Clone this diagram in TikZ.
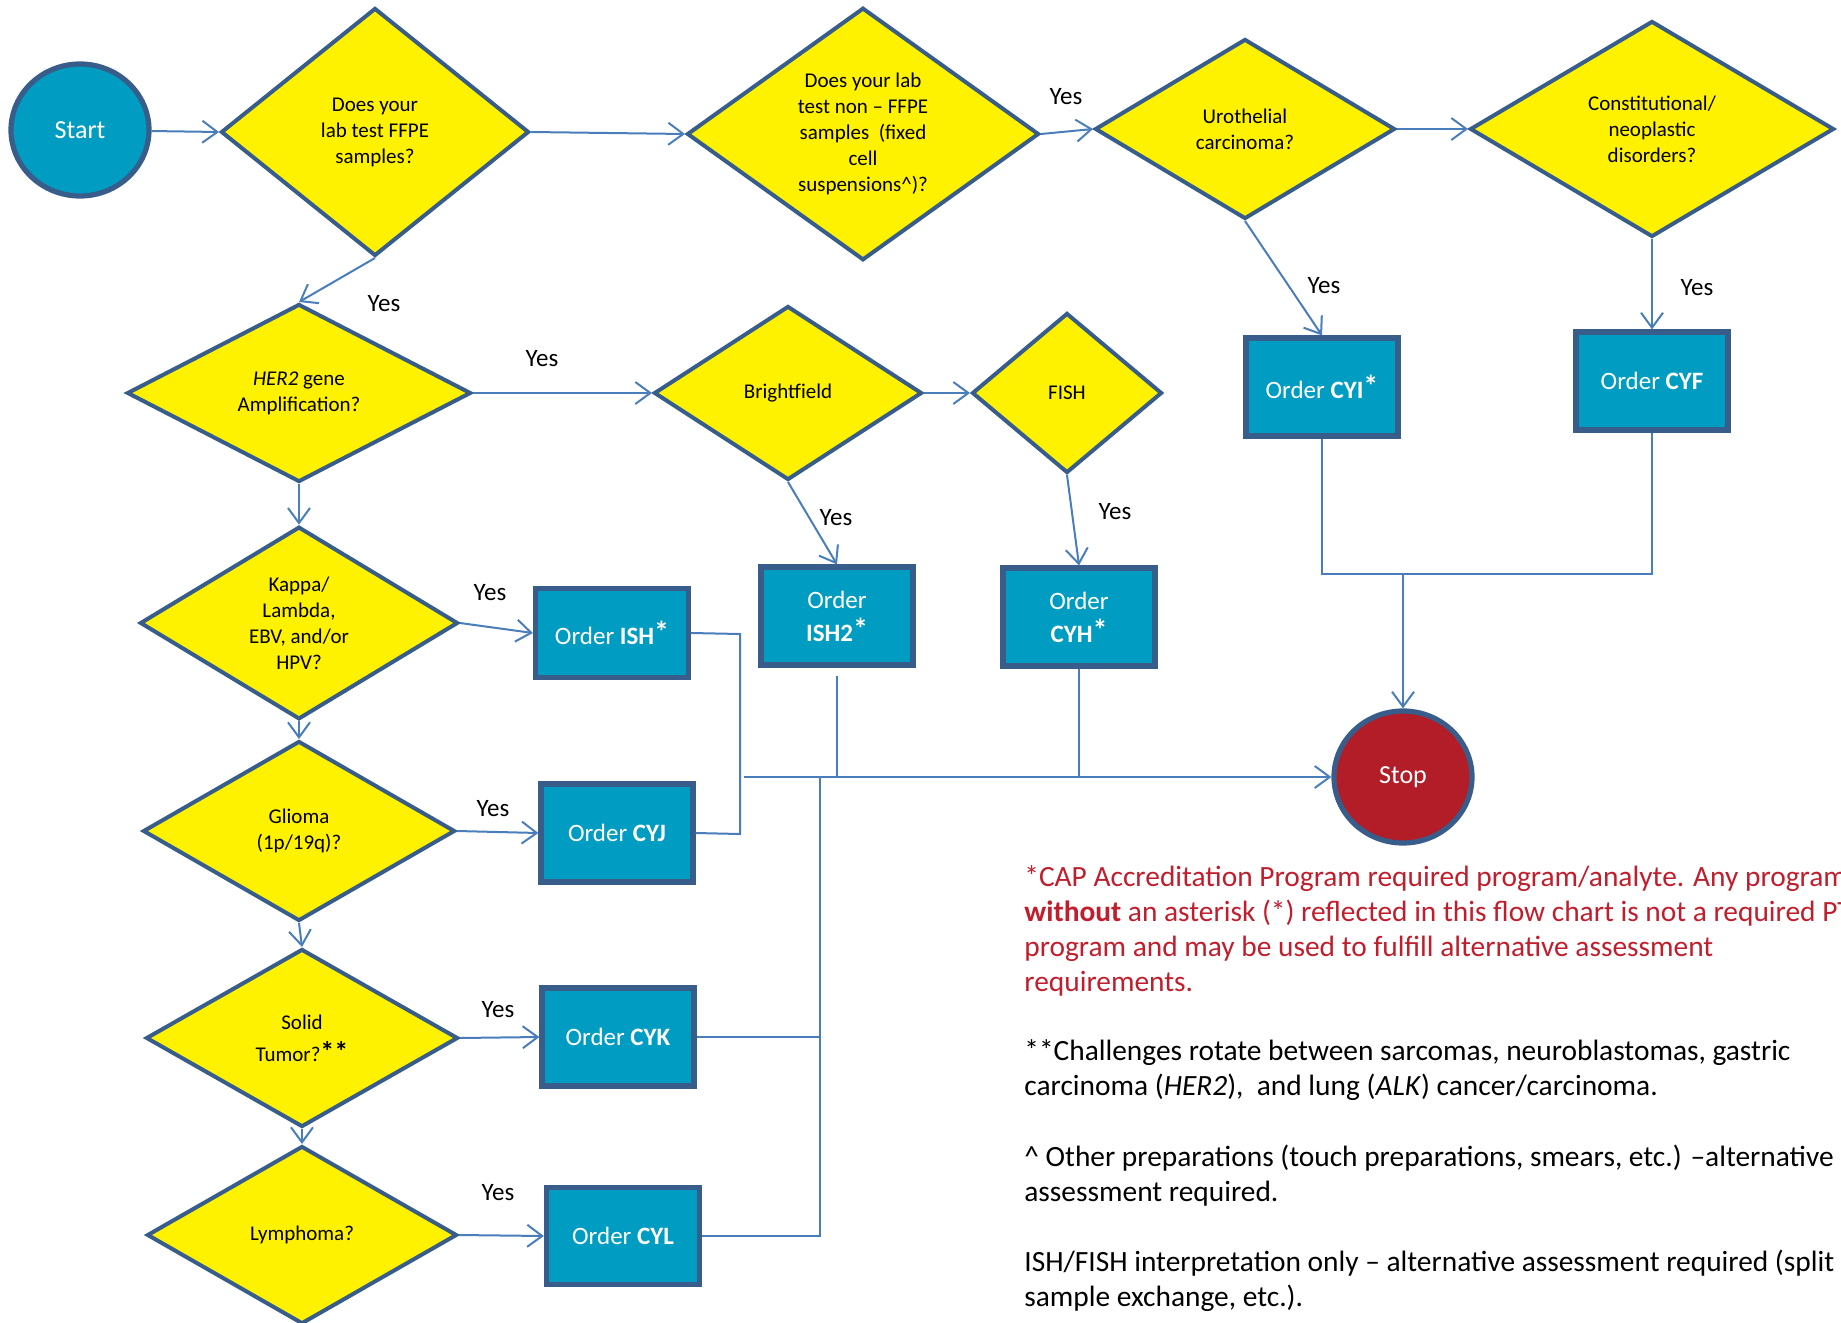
\documentclass[tikz,border=0pt]{standalone}
\usepackage{fontspec}
\setmainfont{Carlito}
\usetikzlibrary{shapes.geometric,arrows.meta}
\definecolor{bd}{RGB}{56,93,138}
\definecolor{boxfill}{RGB}{0,156,193}
\definecolor{ln}{RGB}{74,126,187}
\definecolor{stopred}{RGB}{178,29,40}
\definecolor{notered}{RGB}{192,30,45}
\newcommand\reqstar{\raisebox{0.8pt}{\fontsize{15}{15}\selectfont\bfseries *}}
\begin{document}
\begin{tikzpicture}[x=0.5pt,y=-0.5pt,
 dec/.style={diamond, draw=bd, line width=2pt, fill=yellow, inner sep=0pt, align=center, font=\fontsize{10.5}{13}\selectfont},
 dsz/.style 2 args={minimum width=#1pt, minimum height=#2pt},
 ordbox/.style={rectangle, draw=bd, line width=2.6pt, fill=boxfill, text=white, minimum width=76pt, minimum height=49pt, inner sep=0pt, align=center, font=\fontsize{12.5}{16.5}\selectfont},
 term/.style={ellipse, draw=bd, line width=2.6pt, text=white, minimum width=69pt, minimum height=66pt, inner sep=0pt, font=\fontsize{13}{15}\selectfont},
 conn/.style={draw=ln, line width=1pt, -{Straight Barb[length=7.5pt,width=11pt]}},
 wire/.style={draw=ln, line width=1pt},
 yes/.style={font=\fontsize{12.5}{15}\selectfont, inner sep=0pt},
 note/.style={anchor=base west, align=left, inner sep=0pt, font=\fontsize{14.7}{17.5}\selectfont}
]
\useasboundingbox (0,0) rectangle (1841,1322);
\clip (0,0) rectangle (1841,1322);

% terminals
\node[term, fill=boxfill] (start) at (80,130) {Start};
\node[term, fill=stopred] (stop) at (1403,777) {Stop};

% decisions
\node[dec, dsz={154}{124}] (A) at (375,132) {Does your\\lab test FFPE\\samples?};
\node[dec, dsz={176}{125}] (B) at (863,134) {Does your lab\\test non -- FFPE\\samples\ \ (fixed\\cell\\suspensions\^{})?};
\node[dec, dsz={150}{90}] (C) at (1245,129) {Urothelial\\carcinoma?};
\node[dec, dsz={182}{108}] (D) at (1652,129) {Constitutional/\\neoplastic\\disorders?};
\node[dec, dsz={172}{89}] (E) at (299,393) {\textit{HER2} gene\\Amplification?};
\node[dec, dsz={134}{87}] (F) at (788,393) {Brightfield};
\node[dec, dsz={95}{80}] (G) at (1067,393) {FISH};
\node[dec, dsz={159}{89}] (H) at (299,623) {Kappa/\\Lambda,\\EBV, and/or\\HPV?};
\node[dec, dsz={156}{90}] (I) at (299,831) {Glioma\\(1p/19q)?};
\node[dec, dsz={156}{89}] (J) at (302,1038) {Solid\\[3pt]Tumor?{\fontsize{14}{14}\selectfont\bfseries **}};
\node[dec, dsz={155}{89}] (K) at (302,1235) {Lymphoma?};

% order boxes
\node[ordbox, minimum width=76.5pt, minimum height=44.5pt] (ISH) at (612,633) {Order \textbf{ISH}\reqstar};
\node[ordbox] (ISH2) at (837,616) {Order\\\textbf{ISH2}\reqstar};
\node[ordbox] (CYH) at (1079,617) {Order\\\textbf{CYH}\reqstar};
\node[ordbox] (CYI) at (1322,387) {Order \textbf{CYI}\reqstar};
\node[ordbox] (CYF) at (1652,381) {Order \textbf{CYF}};
\node[ordbox] (CYJ) at (617,833) {Order \textbf{CYJ}};
\node[ordbox] (CYK) at (618,1037) {Order \textbf{CYK}};
\node[ordbox, minimum width=76.5pt, minimum height=48.5pt] (CYL) at (623,1236) {Order \textbf{CYL}};

% helper coordinates
\coordinate (m0) at (744,777);
\coordinate (v0) at (820,777);
\coordinate (r0) at (1403,574);

% main flow
\draw[conn] (start) -- (A.west);
\draw[conn] (A.east) -- (B.west);
\draw[conn] (A.south) -- (E.north);
\draw[conn] (B.east) -- (C.west);
\draw[conn] (C.east) -- (D.west);
\draw[conn] (C.south) -- (CYI.north);
\draw[conn] (D.south) -- (CYF.north);
\draw[conn] (E.east) -- (F.west);
\draw[conn] (F.east) -- (G.west);
\draw[conn] (F.south) -- (ISH2.north);
\draw[conn] (G.south) -- (CYH.north);
\draw[conn] (E.south) -- (H.north);
\draw[conn] (H.east) -- (ISH.west);
\draw[conn] (H.south) -- (I.north);
\draw[conn] (I.east) -- (CYJ.west);
\draw[conn] (I.south) -- (J.north);
\draw[conn] (J.east) -- (CYK.west);
\draw[conn] (J.south) -- (K.north);
\draw[conn] (K.east) -- (CYL.west);

% return lines
\draw[wire] (ISH.east) -- (740,634) -- (740,834) -- (CYJ.east);
\draw[conn] (m0) -- (stop.west);
\draw[wire] ([yshift=-4pt]ISH2.south) -- (ISH2.south |- m0);
\draw[wire] (CYH.south) -- (CYH.south |- m0);
\draw[wire] (v0) |- (CYL.east);
\draw[wire] (CYK.east) -- (CYK.east -| v0);
\draw[wire] (CYI.south) |- (r0) -| (CYF.south);
\draw[conn] (r0) -- (stop.north);

% yes labels
\node[yes] (y1) at (384,304) {Yes};
\node[yes] (y2) at (1066,97) {Yes};
\node[yes] (y3) at (1324,286) {Yes};
\node[yes] (y4) at (1697,288) {Yes};
\node[yes] (y5) at (542,359) {Yes};
\node[yes] (y6) at (836,518) {Yes};
\node[yes] (y7) at (1115,512) {Yes};
\node[yes] (y8) at (490,593) {Yes};
\node[yes] (y9) at (493,809) {Yes};
\node[yes] (y10) at (498,1010) {Yes};
\node[yes] (y11) at (498,1193) {Yes};

% notes (anchored at the baseline of their last line)
\node[note, text=notered] (n1) at (1024,991) {*CAP Accreditation Program required program/analyte. Any program\\\textbf{without} an asterisk (*) reflected in this flow chart is not a required PT\\program and may be used to fulfill alternative assessment\\requirements.};
\node[note] (n2) at (1024,1095) {**Challenges rotate between sarcomas, neuroblastomas, gastric\\carcinoma (\textit{HER2}),\ \ and lung (\textit{ALK}) cancer/carcinoma.};
\node[note] (n3) at (1024,1201) {\^{} Other preparations (touch preparations, smears, etc.) --alternative\\assessment required.};
\node[note] (n4) at (1024,1306) {ISH/FISH interpretation only -- alternative assessment required (split\\sample exchange, etc.).};
\end{tikzpicture}
\end{document}
